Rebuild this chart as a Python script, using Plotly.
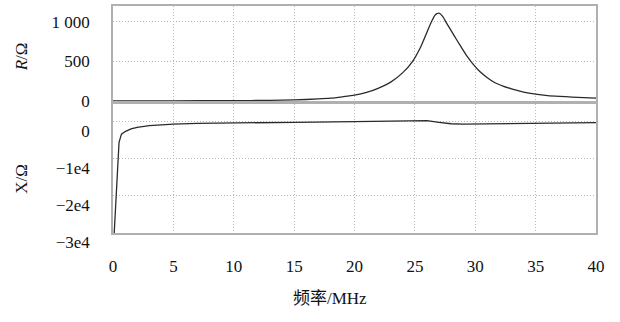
import plotly.graph_objects as go

# Resistance R (Ohm) vs frequency (MHz)
freq_r = [0, 5, 10, 13, 15, 17, 18, 19, 20, 21, 22, 23, 24, 24.8, 25.5, 26.0, 26.4, 26.7, 27.0,
          27.3, 27.6, 28.2, 28.8, 29.3, 29.8, 30.4, 31.0, 31.6, 32.3, 33, 34, 35, 36, 37, 38, 39, 40]
r_vals = [3, 4, 6, 10, 15, 28, 38, 55, 75, 110, 165, 240, 360, 500, 690, 870, 1010, 1090, 1110,
          1070, 990, 840, 690, 570, 470, 370, 295, 235, 190, 155, 115, 88, 70, 60, 52, 45, 38]

# Reactance X (Ohm) vs frequency (MHz)
freq_x = [0.1, 0.5, 0.7, 1.0, 1.5, 2, 3, 4, 5, 7, 10, 15, 20, 23, 25, 26, 27, 28,
          29, 30, 33, 36, 40]
x_vals = [-30000, -5500, -3300, -2600, -1900, -1500, -1000, -750, -600, -400, -250,
          -100, 50, 250, 450, 350, -100, -500, -600, -550, -400, -300, -200]

x_ticks = [0, 5, 10, 15, 20, 25, 30, 35, 40]
r_ticks = [0, 500, 1000]
r_ticktext = ["0", "500", "1 000"]
xr_ticks = [0, -10000, -20000, -30000]
xr_ticktext = ["0", "\u22121e4", "\u22122e4", "\u22123e4"]

FONT = "Liberation Serif, Times New Roman, serif"
FS = 17
LINE = "#2a2a2a"
FRAME = "#b0b0b0"
GRID = "#b8b8b8"

fig = go.Figure()
fig.add_trace(go.Scatter(x=freq_r, y=r_vals, mode="lines", line=dict(color=LINE, width=1.3),
                         line_shape="spline", line_smoothing=0.5,
                         xaxis="x", yaxis="y", showlegend=False))
fig.add_trace(go.Scatter(x=freq_x, y=x_vals, mode="lines", line=dict(color=LINE, width=1.3),
                         xaxis="x2", yaxis="y2", showlegend=False))

common_x = dict(range=[0, 40], tickvals=x_ticks, showgrid=True, gridcolor=GRID, griddash="1px,2px",
                gridwidth=1, showline=True, linecolor=FRAME, linewidth=1.5, mirror=True,
                zeroline=False, ticks="")
common_y = dict(showgrid=True, gridcolor=GRID, griddash="1px,2px", gridwidth=1, showline=True,
                linecolor=FRAME, linewidth=1.5, mirror=True, zeroline=False, ticks="",
                tickfont=dict(family=FONT, size=FS, color="#111"))

fig.update_layout(
    width=620, height=322,
    margin=dict(l=113, r=24, t=4, b=89),
    paper_bgcolor="white", plot_bgcolor="white",
    font=dict(family=FONT, size=FS, color="#111"),
    xaxis=dict(domain=[0, 1], anchor="y", showticklabels=False, matches="x2", **common_x),
    yaxis=dict(domain=[0.5808, 1], range=[0, 1200], tickvals=r_ticks, ticktext=r_ticktext,
               ticklabelstandoff=18, anchor="x", **common_y),
    xaxis2=dict(domain=[0, 1], anchor="y2", tickfont=dict(family=FONT, size=FS, color="#111"),
                ticklabelstandoff=17, **common_x),
    yaxis2=dict(domain=[0, 0.5677], range=[-30000, 4800], tickvals=xr_ticks, ticktext=xr_ticktext,
                ticklabelstandoff=18, ticklabelshift=9, anchor="x2", **common_y),
    annotations=[
        dict(text="<i>R</i>/\u03a9", xref="paper", yref="paper", x=-0.19, y=0.775,
             xanchor="center", yanchor="middle",
             showarrow=False, textangle=-90, font=dict(family=FONT, size=FS, color="#111")),
        dict(text="X/\u03a9", xref="paper", yref="paper", x=-0.19, y=0.24,
             xanchor="center", yanchor="middle",
             showarrow=False, textangle=-90, font=dict(family=FONT, size=FS, color="#111")),
        dict(text="<span style='font-family:Noto Sans CJK SC'>频率</span>/MHz", xref="paper",
             yref="paper", x=(330 - 113) / 483, y=-(297 - 233) / 229, yanchor="middle",
             xanchor="center", showarrow=False, font=dict(family=FONT, size=FS, color="#111")),
    ],
)

fig.write_html("out.html")
